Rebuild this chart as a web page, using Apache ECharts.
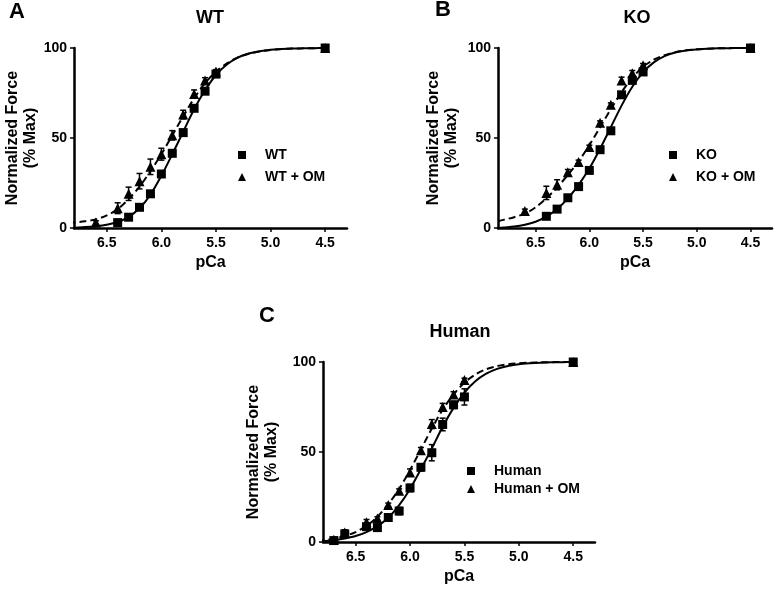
<!DOCTYPE html>
<html><head><meta charset="utf-8">
<script src="https://cdn.jsdelivr.net/npm/echarts@6.0.0/dist/echarts.min.js"></script>
<style>html,body{margin:0;padding:0;background:#fff}#c{width:775px;height:590px}</style>
</head><body><div id="c"></div><script>
// ---------- DATA ----------
const xTicks = [6.5, 6.0, 5.5, 5.0, 4.5];
const yTicks = [0, 50, 100];

// Panel A: WT
const wtPCa = [6.4, 6.3, 6.2, 6.1, 6.0, 5.9, 5.8, 5.7, 5.6, 5.5, 4.5];
const wtForce = [3, 6, 11.5, 19, 30, 41.5, 53, 66.5, 76, 85.5, 100];
const wtOmPCa = [6.6, 6.4, 6.3, 6.2, 6.1, 6.0, 5.9, 5.8, 5.7, 5.6, 5.5, 4.5];
const wtOmForce = [3, 11, 19, 26, 34, 41, 51.5, 63, 74.5, 82, 87, 100];
const wtOmErr = [1, 3, 3.7, 4.3, 4.3, 3.3, 2.6, 2.4, 2.2, 1.5, 1, 0];

// Panel B: KO
const koPCa = [6.4, 6.3, 6.2, 6.1, 6.0, 5.9, 5.8, 5.7, 5.6, 5.5, 4.5];
const koForce = [6.5, 10.5, 16.8, 23, 32, 43.5, 54, 74, 82, 86.7, 100];
const koOmPCa = [6.6, 6.4, 6.3, 6.2, 6.1, 6.0, 5.9, 5.8, 5.7, 5.6, 5.5, 4.5];
const koOmForce = [9.5, 19.5, 24, 31, 36.7, 45, 58.5, 68.5, 82, 86, 90.4, 100];
const koOmErr = [1, 3.7, 2.8, 1.5, 1, 1, 1, 1, 1.8, 1.5, 1, 0];

// Panel C: Human
const humanPCa = [6.7, 6.6, 6.4, 6.3, 6.2, 6.1, 6.0, 5.9, 5.8, 5.7, 5.6, 5.5, 4.5];
const humanForce = [0.8, 4.5, 8.5, 8, 13.6, 17.2, 30, 41.5, 49.6, 65.3, 76.2, 80.6, 100];
const humanErr = [0.5, 1.5, 1.5, 1, 1.5, 2, 2, 2, 4.5, 3.5, 2, 4.5, 0];
const humanOmPCa = [6.7, 6.6, 6.4, 6.3, 6.2, 6.1, 6.0, 5.9, 5.8, 5.7, 5.6, 5.5, 4.5];
const humanOmForce = [1.2, 5.3, 11, 13, 20.6, 28.5, 38.6, 51, 65.5, 75, 82, 90, 100];
const humanOmErr = [0.5, 1.5, 1.5, 1, 1, 1, 2, 1.5, 2.5, 2, 1.5, 1, 0];

// Fitted curves
const fitPCa = [6.85, 6.8, 6.7, 6.6, 6.5, 6.4, 6.3, 6.2, 6.1, 6.0, 5.9, 5.8, 5.7, 5.6, 5.5, 5.4, 5.3, 5.2, 5.1, 5.0, 4.9, 4.8, 4.7, 4.6, 4.5];
const wtFit = [0, 0.2, 0.5, 1, 1.8, 3.3, 6.2, 11, 18.5, 29, 41, 53.5, 66, 76.5, 85, 90.8, 94.6, 96.9, 98.2, 99, 99.4, 99.7, 99.8, 99.9, 100];
const wtOmFit = [2.7, 3, 3.7, 4.8, 7, 10.5, 16, 23, 31.5, 41, 51.5, 62, 72, 80.5, 86.8, 91.5, 94.8, 96.8, 98.1, 98.9, 99.4, 99.7, 99.8, 99.9, 100];
const koFit = [0, 0.3, 0.8, 1.8, 3.5, 6.3, 10.5, 16.5, 24, 33, 44, 56, 68, 78.5, 86.5, 92, 95.5, 97.5, 98.6, 99.2, 99.6, 99.8, 99.9, 100, 100];
const koOmFit = [3.8, 4.5, 6, 8, 11.5, 16.5, 22.5, 29.5, 37, 46, 56, 66, 75.5, 83.5, 89.5, 93.5, 96, 97.7, 98.7, 99.3, 99.6, 99.8, 99.9, 100, 100];
const humanFit = [0.3, 0.5, 1, 2, 3.3, 5.5, 8.8, 13.5, 20.5, 29.5, 40.5, 52, 64, 74.5, 83, 89.3, 93.5, 96.2, 97.8, 98.8, 99.3, 99.6, 99.8, 99.9, 100];
const humanOmFit = [0.7, 1, 1.8, 3.3, 5.5, 9, 14, 21, 29.5, 40, 51.5, 63, 73.5, 82, 88.5, 93, 96, 97.7, 98.7, 99.3, 99.6, 99.8, 99.9, 100, 100];

const panelLetters = ['A', 'B', 'C'];
const panelTitles = ['WT', 'KO', 'Human'];
const ctrlNames = ['WT', 'KO', 'Human'];
const omNames = ['WT + OM', 'KO + OM', 'Human + OM'];
const xName = 'pCa';
const yName = 'Normalized Force\n(% Max)';

// ---------- BUILD ----------
const FONT = '"Liberation Sans", Arial, Helvetica, sans-serif';
const BLACK = '#000';
const zip = (xs, ys, es) => xs.map((x, i) => es ? [x, ys[i], es[i]] : [x, ys[i]]);

const panels = [
  { grid: {left: 74, top: 48, width: 273, height: 180}, xMax: 6.8, nameGap: 34,
    legend: {left: 238, top: 148, itemGap: 8},
    letter: {x: 17, y: 1}, title: {x: 210, y: 9},
    ctrl: zip(wtPCa, wtForce), om: zip(wtOmPCa, wtOmForce), omErr: zip(wtOmPCa, wtOmForce, wtOmErr), ctrlErr: null,
    ctrlFit: wtFit, omFit: wtOmFit },
  { grid: {left: 498, top: 48, width: 274, height: 180}, xMax: 6.85, nameGap: 37,
    legend: {left: 669, top: 148, itemGap: 8},
    letter: {x: 443, y: -1}, title: {x: 637, y: 9},
    ctrl: zip(koPCa, koForce), om: zip(koOmPCa, koOmForce), omErr: zip(koOmPCa, koOmForce, koOmErr), ctrlErr: null,
    ctrlFit: koFit, omFit: koOmFit },
  { grid: {left: 323, top: 362, width: 272, height: 180}, xMax: 6.8, nameGap: 42,
    legend: {left: 467, top: 464, itemGap: 4},
    letter: {x: 267, y: 305}, title: {x: 460, y: 323},
    ctrl: zip(humanPCa, humanForce), om: zip(humanOmPCa, humanOmForce), omErr: zip(humanOmPCa, humanOmForce, humanOmErr), ctrlErr: zip(humanPCa, humanForce, humanErr),
    ctrlFit: humanFit, omFit: humanOmFit }
];

function errRender(params, api) {
  const x = api.value(0), y = api.value(1), e = api.value(2);
  if (!e) return null;
  const top = api.coord([x, y + e]);
  const bot = api.coord([x, y - e]);
  const w = 3;
  const st = {stroke: BLACK, lineWidth: 1.5};
  return {type: 'group', children: [
    {type: 'line', shape: {x1: top[0], y1: top[1], x2: bot[0], y2: bot[1]}, style: st},
    {type: 'line', shape: {x1: top[0] - w, y1: top[1], x2: top[0] + w, y2: top[1]}, style: st},
    {type: 'line', shape: {x1: bot[0] - w, y1: bot[1], x2: bot[0] + w, y2: bot[1]}, style: st}
  ]};
}

const option = {
  animation: false,
  backgroundColor: '#fff',
  textStyle: {fontFamily: FONT},
  title: [], grid: [], xAxis: [], yAxis: [], legend: [], series: []
};

panels.forEach((p, i) => {
  option.title.push({text: panelLetters[i], left: p.letter.x, top: p.letter.y, textAlign: 'center', padding: 0,
    textStyle: {fontFamily: FONT, fontWeight: 'bold', fontSize: 22, color: BLACK}});
  option.title.push({text: panelTitles[i], left: p.title.x, top: p.title.y, textAlign: 'center', padding: 0,
    textStyle: {fontFamily: FONT, fontWeight: 'bold', fontSize: 18, color: BLACK}});
  option.grid.push(p.grid);
  option.xAxis.push({
    type: 'value', gridIndex: i, inverse: true, min: 4.3, max: p.xMax,
    name: xName, nameLocation: 'middle', nameGap: 27,
    nameTextStyle: {fontFamily: FONT, fontWeight: 'bold', fontSize: 16, color: BLACK},
    axisLine: {onZero: false, lineStyle: {color: BLACK, width: 2.5}},
    axisTick: {customValues: xTicks, length: 4, lineStyle: {color: BLACK, width: 1.5}},
    axisLabel: {customValues: xTicks, margin: 8, formatter: v => Number(v).toFixed(1),
      fontFamily: FONT, fontWeight: 'bold', fontSize: 14, color: BLACK},
    splitLine: {show: false}
  });
  option.yAxis.push({
    type: 'value', gridIndex: i, min: 0, max: 100,
    name: yName, nameLocation: 'middle', nameRotate: 90, nameGap: p.nameGap,
    nameTextStyle: {fontFamily: FONT, fontWeight: 'bold', fontSize: 16, color: BLACK, lineHeight: 18},
    axisLine: {show: true, lineStyle: {color: BLACK, width: 2.5}},
    axisTick: {show: true, customValues: yTicks, length: 4, lineStyle: {color: BLACK, width: 1.5}},
    axisLabel: {customValues: yTicks, margin: 7, fontFamily: FONT, fontWeight: 'bold', fontSize: 14, color: BLACK},
    splitLine: {show: false}
  });
  option.legend.push({
    data: [{name: ctrlNames[i], icon: 'rect'}, {name: omNames[i], icon: 'triangle'}],
    orient: 'vertical', left: p.legend.left, top: p.legend.top, itemGap: p.legend.itemGap,
    itemWidth: 8, itemHeight: 8, selectedMode: false, padding: 0,
    textStyle: {fontFamily: FONT, fontWeight: 'bold', fontSize: 14, color: BLACK, padding: [0, 0, 0, 14]}
  });
  const ax = {xAxisIndex: i, yAxisIndex: i};
  option.series.push(Object.assign({type: 'line', name: ctrlNames[i] + ' fit', data: zip(fitPCa, p.ctrlFit),
    smooth: 0.3, showSymbol: false, symbol: 'none', z: 2, silent: true,
    lineStyle: {color: BLACK, width: 2, type: 'solid'}}, ax));
  option.series.push(Object.assign({type: 'line', name: omNames[i] + ' fit', data: zip(fitPCa, p.omFit),
    smooth: 0.3, showSymbol: false, symbol: 'none', z: 2, silent: true,
    lineStyle: {color: BLACK, width: 2, type: [7, 4]}}, ax));
  option.series.push(Object.assign({type: 'custom', name: omNames[i] + ' err', data: p.omErr,
    renderItem: errRender, z: 3, silent: true}, ax));
  if (p.ctrlErr) option.series.push(Object.assign({type: 'custom', name: ctrlNames[i] + ' err', data: p.ctrlErr,
    renderItem: errRender, z: 3, silent: true}, ax));
  option.series.push(Object.assign({type: 'scatter', name: ctrlNames[i], data: p.ctrl,
    symbol: 'rect', symbolSize: 9, z: 4, itemStyle: {color: BLACK, opacity: 1}}, ax));
  option.series.push(Object.assign({type: 'scatter', name: omNames[i], data: p.om,
    symbol: 'triangle', symbolSize: 10, z: 4, itemStyle: {color: BLACK, opacity: 1}}, ax));
});

const chart = echarts.init(document.getElementById('c'), null, {renderer: 'canvas'});
chart.setOption(option);
</script></body></html>
